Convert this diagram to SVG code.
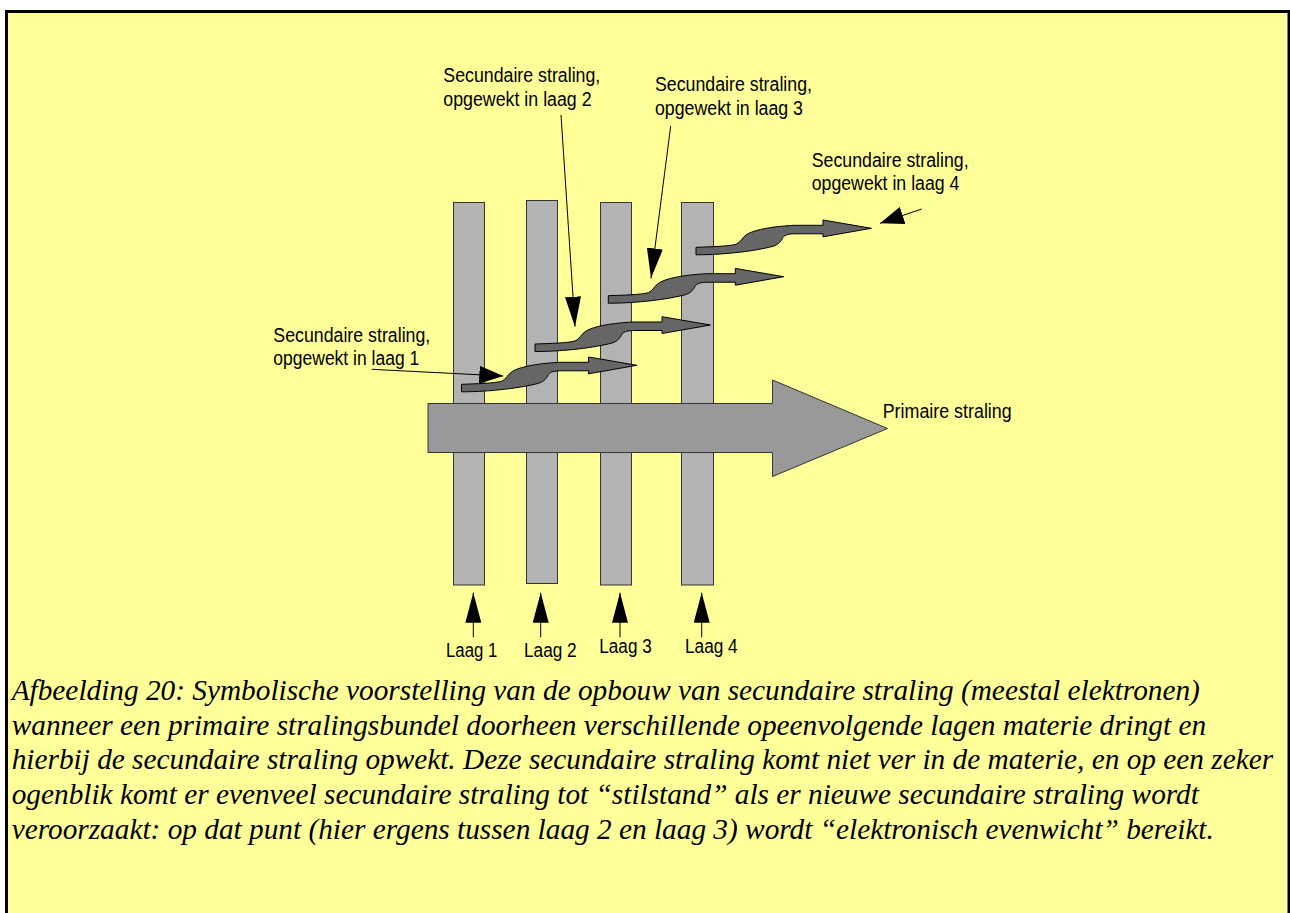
<svg xmlns="http://www.w3.org/2000/svg" xmlns:xlink="http://www.w3.org/1999/xlink" width="1290" height="913" viewBox="0 0 1290 913">
<style>
.lbl{font-family:"Liberation Sans",Arial,sans-serif;font-size:20px;fill:#000}
.cap{font-family:"Liberation Serif","Times New Roman",serif;font-style:italic;font-size:29.3px;fill:#000}
.bar{fill:#b3b3b3;stroke:#333;stroke-width:1}
.wave{fill:#666;stroke:#000;stroke-width:1}
.prim{fill:#999;stroke:#333;stroke-width:1}
.ln{stroke:#000;stroke-width:1;fill:none}
</style>
<defs>
<marker id="big" markerUnits="userSpaceOnUse" markerWidth="30" markerHeight="16" refX="30" refY="8" orient="auto" viewBox="0 0 30 16"><path d="M0,0 L30,8 L0,16 Z" fill="#000"/></marker>
<marker id="short" markerUnits="userSpaceOnUse" markerWidth="24" markerHeight="18" refX="24" refY="9" orient="auto" viewBox="0 0 24 18"><path d="M0,0 L24,9 L0,18 Z" fill="#000"/></marker>
<path id="wavep" d="M0,0 C15,-0.5 33,-1 40,-3 C45,-5 46,-10 51,-13 C58,-17 72,-20.5 98,-22 L127,-22 L127,-27.3 L175.4,-19 L127,-10.5 L127,-13.5 L100,-13.5 C93,-13.5 89,-12.5 87,-10 C85,-6 83,-3 77,-1 C60,3.5 30,7.5 0,7.5 Z"/>
</defs>
<rect x="0" y="0" width="1290" height="913" fill="#fff"/>
<rect x="6.5" y="11.5" width="1282.5" height="920" fill="#ffff99" stroke="#000" stroke-width="3"/>

<g id="laag1-bar"><rect class="bar" x="453.5" y="202.5" width="31" height="382.5"/></g>
<g id="laag2-bar"><rect class="bar" x="526.5" y="200.5" width="31" height="383"/></g>
<g id="laag3-bar"><rect class="bar" x="600.5" y="202.5" width="31" height="382.5"/></g>
<g id="laag4-bar"><rect class="bar" x="681.5" y="202.5" width="32" height="382.5"/></g>

<g id="primaire"><polygon class="prim" points="428,403.5 772.5,403.5 772.5,380 887.5,428.5 772.5,476.5 772.5,452.5 428,452.5"/></g>

<g id="sec1"><use xlink:href="#wavep" class="wave" x="461.5" y="384.3"/></g>
<g id="sec2"><use xlink:href="#wavep" class="wave" x="535" y="344"/></g>
<g id="sec3"><use xlink:href="#wavep" class="wave" x="608.3" y="295.7"/></g>
<g id="sec4"><use xlink:href="#wavep" class="wave" x="696" y="247.3"/></g>

<g id="connectors">
<line class="ln" x1="371.7" y1="369.3" x2="503.3" y2="376" marker-end="url(#short)"/>
<line class="ln" x1="561" y1="115" x2="575" y2="326.7" marker-end="url(#big)"/>
<line class="ln" x1="670.7" y1="126" x2="651" y2="278.3" marker-end="url(#big)"/>
<line class="ln" x1="921.7" y1="209" x2="880" y2="223.3" marker-end="url(#short)"/>
<line class="ln" x1="473.3" y1="637.3" x2="473.3" y2="592.7" marker-end="url(#big)"/>
<line class="ln" x1="540.7" y1="637.3" x2="540.7" y2="592.7" marker-end="url(#big)"/>
<line class="ln" x1="620" y1="637.3" x2="620" y2="592.7" marker-end="url(#big)"/>
<line class="ln" x1="701.7" y1="637.3" x2="701.7" y2="592.7" marker-end="url(#big)"/>
</g>

<g id="label-sec1">
<text class="lbl" x="273.3" y="342.3" textLength="157" lengthAdjust="spacingAndGlyphs">Secundaire straling,</text>
<text class="lbl" x="273.3" y="365" textLength="146" lengthAdjust="spacingAndGlyphs">opgewekt in laag 1</text>
</g>
<g id="label-sec2">
<text class="lbl" x="443.3" y="81.7" textLength="157" lengthAdjust="spacingAndGlyphs">Secundaire straling,</text>
<text class="lbl" x="443.3" y="106" textLength="148.3" lengthAdjust="spacingAndGlyphs">opgewekt in laag 2</text>
</g>
<g id="label-sec3">
<text class="lbl" x="655" y="90.7" textLength="157" lengthAdjust="spacingAndGlyphs">Secundaire straling,</text>
<text class="lbl" x="655" y="114.5" textLength="148" lengthAdjust="spacingAndGlyphs">opgewekt in laag 3</text>
</g>
<g id="label-sec4">
<text class="lbl" x="811.7" y="167.3" textLength="157" lengthAdjust="spacingAndGlyphs">Secundaire straling,</text>
<text class="lbl" x="811.7" y="190" textLength="147.7" lengthAdjust="spacingAndGlyphs">opgewekt in laag 4</text>
</g>
<g id="label-primaire"><text class="lbl" x="882.7" y="418.3" textLength="129" lengthAdjust="spacingAndGlyphs">Primaire straling</text></g>
<g id="label-laag1"><text class="lbl" x="446" y="656.7" textLength="51.3" lengthAdjust="spacingAndGlyphs">Laag 1</text></g>
<g id="label-laag2"><text class="lbl" x="524" y="657.3" textLength="52.7" lengthAdjust="spacingAndGlyphs">Laag 2</text></g>
<g id="label-laag3"><text class="lbl" x="599.3" y="653" textLength="52.4" lengthAdjust="spacingAndGlyphs">Laag 3</text></g>
<g id="label-laag4"><text class="lbl" x="685" y="653" textLength="52.7" lengthAdjust="spacingAndGlyphs">Laag 4</text></g>

<g id="caption">
<text class="cap" x="11.7" y="700">Afbeelding 20: Symbolische voorstelling van de opbouw van secundaire straling (meestal elektronen)</text>
<text class="cap" x="11.7" y="734.7">wanneer een primaire stralingsbundel doorheen verschillende opeenvolgende lagen materie dringt en</text>
<text class="cap" x="11.7" y="769.4">hierbij de secundaire straling opwekt. Deze secundaire straling komt niet ver in de materie, en op een zeker</text>
<text class="cap" x="11.7" y="804.1">ogenblik komt er evenveel secundaire straling tot “stilstand” als er nieuwe secundaire straling wordt</text>
<text class="cap" x="11.7" y="838.8">veroorzaakt: op dat punt (hier ergens tussen laag 2 en laag 3) wordt “elektronisch evenwicht” bereikt.</text>
</g>
</svg>
